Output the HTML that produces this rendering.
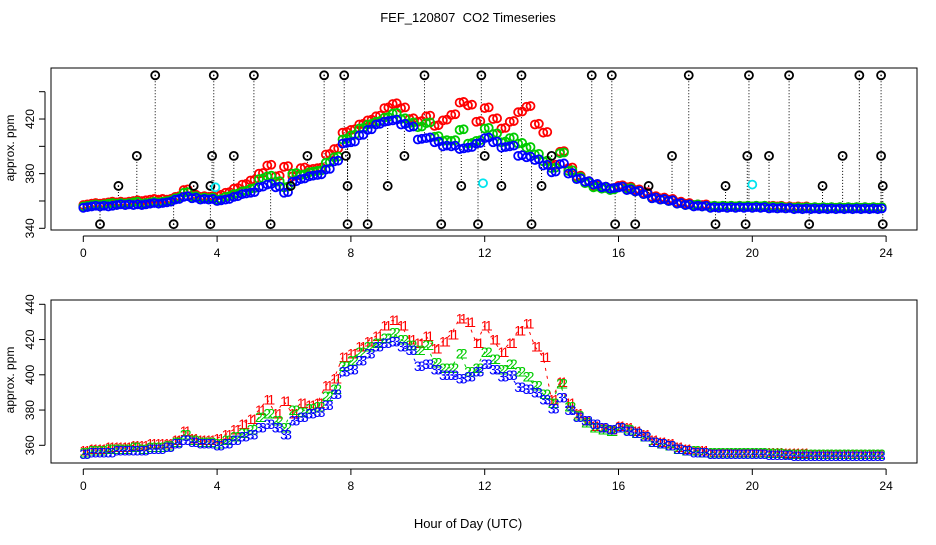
<!DOCTYPE html>
<html><head><meta charset="utf-8"><style>
body{margin:0;background:#fff;width:936px;height:540px;overflow:hidden}
svg{font-family:"Liberation Sans",sans-serif}
</style></head><body>
<svg id="chart" width="936" height="540" xmlns="http://www.w3.org/2000/svg">
<text x="468" y="22" font-size="13" text-anchor="middle">FEF_120807&#160; CO2 Timeseries</text>
<text x="468" y="528" font-size="13" text-anchor="middle">Hour of Day (UTC)</text>
<g id="top"></g>
<g id="bot"></g>
</svg>
<script>
const hours=[0,0.25,0.5,0.75,1,1.25,1.5,1.75,2,2.25,2.5,2.75,3,3.25,3.5,3.75,4,4.25,4.5,4.75,5,5.25,5.5,5.75,6,6.25,6.5,6.75,7,7.25,7.5,7.75,8,8.25,8.5,8.75,9,9.25,9.5,9.75,10,10.25,10.5,10.75,11,11.25,11.5,11.75,12,12.25,12.5,12.75,13,13.25,13.5,13.75,14,14.25,14.5,14.75,15,15.25,15.5,15.75,16,16.25,16.5,16.75,17,17.25,17.5,17.75,18,18.25,18.5,18.75,19,19.25,19.5,19.75,20,20.25,20.5,20.75,21,21.25,21.5,21.75,22,22.25,22.5,22.75,23,23.25,23.5,23.75];
const blueVals=[355,356,356,356,357,357,357,357,358,358,359,361,363,362,361,361,360,361,363,365,366,370,372,370,366,374,376,378,379,383,389,402,403,408,412,416,418,419,416,414,405,406,403,400,400,398,399,402,406,403,399,400,393,392,390,386,381,387,380,376,374,372,370,369,370,368,367,365,362,361,360,358,357,356,356,355,355,355,355,355,355,355,354.5,354.5,354.5,354,354,354,354,354,354,354,354,354,354,354];
const greenVals=[356,357,357,358,358,358,359,358,359,359,360,362,366,363,362,362,361,363,365,367,369,376,378,374,370,380,379,381,382,388,392,405,408,413,416,418,421,424,420,417,414,417,407,404,404,412,402,404,413,409,403,406,402,399,394,389,384,395,382,377,373,370,369,368,370,369,367,365,362,361,360,358,357,357,356,356,356,356,356,356,356,356,355.5,355.5,355,355,355,355,355,355,355,355,355,355,355,355];
const redVals=[357,358,358,359,359,359,360,360,361,361,361,363,368,364,363,363,364,366,369,372,375,380,386,378,385,378,384,383,384,394,398,410,412,416,419,422,428,431,428,420,418,422,415,419,423,432,430,418,428,420,413,418,425,429,416,410,386,396,384,378,374,371,370,369,371,370,368,366,363,362,361,359,358,357,357,356,356,356,356,356,356,356,356,356,355.5,355.5,355.5,355,355,355,355,355,355,355,355,355];
const outlierHours=[2.15,3.9,5.1,7.2,7.8,10.2,11.9,13.1,15.2,15.8,18.1,19.9,21.1,23.2,23.85,0.5,2.7,3.8,5.6,7.9,8.5,10.7,11.8,13.4,15.9,16.5,18.9,19.8,21.7,23.9,1.6,3.85,4.5,6.7,7.85,9.6,12.0,14.0,17.6,19.85,20.5,22.7,23.85,1.05,3.3,3.8,6.2,7.9,9.1,11.3,12.5,13.7,16.9,19.2,22.1,23.9];
const outlierVals=[452,452,452,452,452,452,452,452,452,452,452,452,452,452,452,343,343,343,343,343,343,343,343,343,343,343,343,343,343,343,393,393,393,393,393,393,393,393,393,393,393,393,393,371,371,371,371,371,371,371,371,371,371,371,371,371];
const cyanHours=[3.95,11.95,20.0];
const cyanVals=[370,373,372];
const xTicks=[0,4,8,12,16,20,24];
const topYTicks=[340,360,380,400,420,440];
const botYTicks=[360,380,400,420,440];

const NS="http://www.w3.org/2000/svg";
function mk(p,t,a){const e=document.createElementNS(NS,t);for(const k in a)e.setAttribute(k,a[k]);p.appendChild(e);return e;}
const X=h=>83.3+h*33.45;
function gapBefore(i){return i>0&&(Math.abs(hours[i]-4)<0.01||Math.abs(hours[i]-20)<0.01);}

function axes(g,top,bot,Y,yt,labelY,showLabels){
  let r=mk(g,'rect',{x:51,y:top,width:866,height:bot-top,fill:'none',stroke:'#000','stroke-width':1});
  
  let ax=mk(g,'line',{x1:X(0),x2:X(24),y1:bot+6,y2:bot+6,stroke:'#000'});
  
  xTicks.forEach(t=>{
    mk(g,'line',{x1:X(t),x2:X(t),y1:bot+6,y2:bot+12,stroke:'#000'});
    const tx=mk(g,'text',{x:X(t),y:bot+27,'font-size':12,'text-anchor':'middle'});tx.textContent=t;
    
  });
  const ay=mk(g,'line',{x1:45,x2:45,y1:Y(yt[0]),y2:Y(yt[yt.length-1]),stroke:'#000'});
  
  yt.forEach((t,i)=>{
    mk(g,'line',{x1:39,x2:45,y1:Y(t),y2:Y(t),stroke:'#000'});
    if(showLabels(i)){const tx=mk(g,'text',{x:34,y:Y(t),'font-size':12,'text-anchor':'middle',transform:`rotate(-90 34 ${Y(t)})`});tx.textContent=t;
    }
  });
  const yl=mk(g,'text',{x:14,y:labelY,'font-size':12,'text-anchor':'middle',transform:`rotate(-90 14 ${labelY})`});yl.textContent='approx. ppm';
  
}

// top panel
const gt=document.getElementById('top');
const YT=v=>228.3-(v-340)*1.366;
axes(gt,68,230,YT,topYTicks,148,i=>i%2===0);
function nearestBlue(h){let b=0;hours.forEach((x,i)=>{if(Math.abs(x-h)<Math.abs(hours[b]-h))b=i;});b=Math.min(b,blueVals.length-1);return blueVals[b];}
outlierHours.forEach((h,i)=>{
  const l=mk(gt,'line',{x1:X(h),x2:X(h),y1:YT(outlierVals[i]),y2:YT(nearestBlue(h)),stroke:'#000','stroke-dasharray':'1,2','stroke-width':1});
  
});
[[redVals,'#ff0000','red'],[greenVals,'#00cc00','green'],[blueVals,'#0000ff','blue']].forEach(([vals,c,n])=>{
  vals.forEach((v,i)=>{
    [0,0.12].forEach(d=>{
      const e=mk(gt,'circle',{cx:X(hours[i]+d),cy:YT(v+(d?0.5:0)),r:4,fill:'none',stroke:c,'stroke-width':1.8});
      
    });
  });
});
outlierHours.forEach((h,i)=>{
  const e=mk(gt,'circle',{cx:X(h),cy:YT(outlierVals[i]),r:4,fill:'none',stroke:'#000','stroke-width':1.8});
  
  mk(gt,'circle',{cx:X(h),cy:YT(outlierVals[i]),r:0.8,fill:'#000'});
});
cyanHours.forEach((h,i)=>{
  const e=mk(gt,'circle',{cx:X(h),cy:YT(cyanVals[i]),r:4,fill:'none',stroke:'#00e5ee','stroke-width':1.8});
  
});

// bottom panel
const gb=document.getElementById('bot');
const YB=v=>445.3-(v-360)*1.7625;
axes(gb,300,463,YB,botYTicks,380,()=>true);
[[redVals,'#ff0000','1','red'],[greenVals,'#00cc00','2','green'],[blueVals,'#0000ff','3','blue']].forEach(([vals,c,ch,n])=>{
  let d='';
  vals.forEach((v,i)=>{d+=(i===0||gapBefore(i)?'M':'L')+X(hours[i])+','+YB(v);});
  const p=mk(gb,'path',{d:d,fill:'none',stroke:c,'stroke-width':1,'stroke-dasharray':'3,5'});
  
  vals.forEach((v,i)=>{
    [0,0.12].forEach(dd=>{
      const t=mk(gb,'text',{x:X(hours[i]+dd),y:YB(v)+5,'font-size':14,'text-anchor':'middle',fill:c});t.textContent=ch;
      
    });
  });
});
</script>
</body></html>
